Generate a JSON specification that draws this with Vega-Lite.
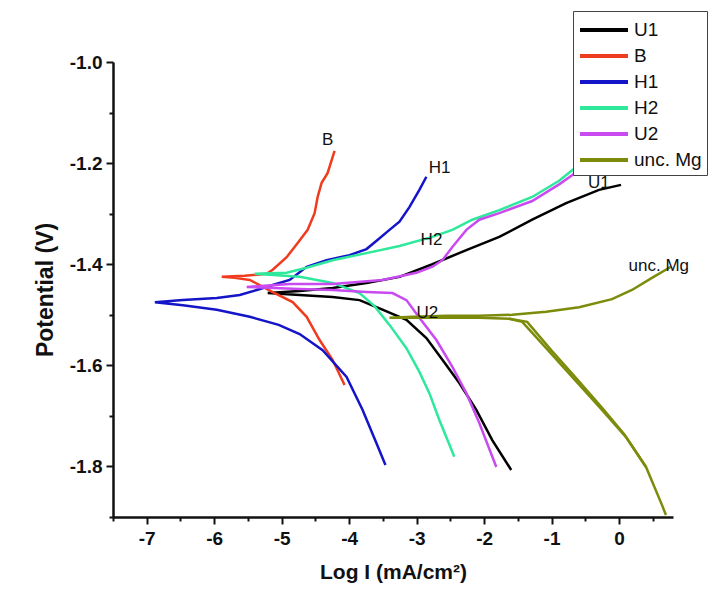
{
  "$schema": "https://vega.github.io/schema/vega-lite/v6.json",
  "width": 560,
  "height": 455,
  "autosize": {"type": "none"},
  "padding": {"left": 113, "top": 62, "right": 44, "bottom": 86},
  "background": "white",
  "config": {
    "view": {"stroke": null},
    "font": "Liberation Sans",
    "locale": {"number": {"decimal": ".", "thousands": ",", "grouping": [3], "currency": ["$", ""], "minus": "-"}}
  },
  "datasets": {
    "curves": [
      {"s":"U1","b":"m","i":0,"x":-1.598,"y":-1.807},
      {"s":"U1","b":"m","i":1,"x":-1.879,"y":-1.748},
      {"s":"U1","b":"m","i":2,"x":-2.115,"y":-1.688},
      {"s":"U1","b":"m","i":3,"x":-2.367,"y":-1.635},
      {"s":"U1","b":"m","i":4,"x":-2.618,"y":-1.589},
      {"s":"U1","b":"m","i":5,"x":-2.855,"y":-1.546},
      {"s":"U1","b":"m","i":6,"x":-3.151,"y":-1.510},
      {"s":"U1","b":"m","i":7,"x":-3.506,"y":-1.490},
      {"s":"U1","b":"m","i":8,"x":-3.846,"y":-1.471},
      {"s":"U1","b":"m","i":9,"x":-4.246,"y":-1.465},
      {"s":"U1","b":"m","i":10,"x":-4.734,"y":-1.461},
      {"s":"U1","b":"m","i":11,"x":-5.207,"y":-1.457},
      {"s":"U1","b":"m","i":12,"x":-4.734,"y":-1.453},
      {"s":"U1","b":"m","i":13,"x":-4.246,"y":-1.447},
      {"s":"U1","b":"m","i":14,"x":-3.743,"y":-1.437},
      {"s":"U1","b":"m","i":15,"x":-3.254,"y":-1.425},
      {"s":"U1","b":"m","i":16,"x":-2.766,"y":-1.400},
      {"s":"U1","b":"m","i":17,"x":-2.263,"y":-1.372},
      {"s":"U1","b":"m","i":18,"x":-1.775,"y":-1.346},
      {"s":"U1","b":"m","i":19,"x":-1.287,"y":-1.312},
      {"s":"U1","b":"m","i":20,"x":-0.784,"y":-1.279},
      {"s":"U1","b":"m","i":21,"x":-0.296,"y":-1.253},
      {"s":"U1","b":"m","i":22,"x":0.030,"y":-1.243},

      {"s":"B","b":"m","i":0,"x":-4.068,"y":-1.639},
      {"s":"B","b":"m","i":1,"x":-4.246,"y":-1.589},
      {"s":"B","b":"m","i":2,"x":-4.438,"y":-1.550},
      {"s":"B","b":"m","i":3,"x":-4.630,"y":-1.504},
      {"s":"B","b":"m","i":4,"x":-4.837,"y":-1.475},
      {"s":"B","b":"m","i":5,"x":-5.133,"y":-1.455},
      {"s":"B","b":"m","i":6,"x":-5.473,"y":-1.431},
      {"s":"B","b":"m","i":7,"x":-5.695,"y":-1.427},
      {"s":"B","b":"m","i":8,"x":-5.888,"y":-1.425},
      {"s":"B","b":"m","i":9,"x":-5.547,"y":-1.423},
      {"s":"B","b":"m","i":10,"x":-5.222,"y":-1.419},
      {"s":"B","b":"m","i":11,"x":-5.133,"y":-1.411},
      {"s":"B","b":"m","i":12,"x":-4.926,"y":-1.386},
      {"s":"B","b":"m","i":13,"x":-4.763,"y":-1.358},
      {"s":"B","b":"m","i":14,"x":-4.615,"y":-1.332},
      {"s":"B","b":"m","i":15,"x":-4.512,"y":-1.299},
      {"s":"B","b":"m","i":16,"x":-4.467,"y":-1.267},
      {"s":"B","b":"m","i":17,"x":-4.408,"y":-1.239},
      {"s":"B","b":"m","i":18,"x":-4.320,"y":-1.220},
      {"s":"B","b":"m","i":19,"x":-4.216,"y":-1.176},

      {"s":"H1","b":"m","i":0,"x":-3.462,"y":-1.797},
      {"s":"H1","b":"m","i":1,"x":-3.595,"y":-1.754},
      {"s":"H1","b":"m","i":2,"x":-3.802,"y":-1.688},
      {"s":"H1","b":"m","i":3,"x":-4.038,"y":-1.623},
      {"s":"H1","b":"m","i":4,"x":-4.393,"y":-1.570},
      {"s":"H1","b":"m","i":5,"x":-4.734,"y":-1.538},
      {"s":"H1","b":"m","i":6,"x":-5.044,"y":-1.520},
      {"s":"H1","b":"m","i":7,"x":-5.473,"y":-1.504},
      {"s":"H1","b":"m","i":8,"x":-5.962,"y":-1.490},
      {"s":"H1","b":"m","i":9,"x":-6.464,"y":-1.481},
      {"s":"H1","b":"m","i":10,"x":-6.879,"y":-1.475},
      {"s":"H1","b":"m","i":11,"x":-6.464,"y":-1.471},
      {"s":"H1","b":"m","i":12,"x":-5.962,"y":-1.467},
      {"s":"H1","b":"m","i":13,"x":-5.621,"y":-1.461},
      {"s":"H1","b":"m","i":14,"x":-5.370,"y":-1.451},
      {"s":"H1","b":"m","i":15,"x":-5.133,"y":-1.441},
      {"s":"H1","b":"m","i":16,"x":-4.882,"y":-1.431},
      {"s":"H1","b":"m","i":17,"x":-4.630,"y":-1.405},
      {"s":"H1","b":"m","i":18,"x":-4.334,"y":-1.392},
      {"s":"H1","b":"m","i":19,"x":-3.994,"y":-1.382},
      {"s":"H1","b":"m","i":20,"x":-3.743,"y":-1.370},
      {"s":"H1","b":"m","i":21,"x":-3.580,"y":-1.352},
      {"s":"H1","b":"m","i":22,"x":-3.402,"y":-1.332},
      {"s":"H1","b":"m","i":23,"x":-3.254,"y":-1.316},
      {"s":"H1","b":"m","i":24,"x":-3.107,"y":-1.287},
      {"s":"H1","b":"m","i":25,"x":-2.959,"y":-1.253},
      {"s":"H1","b":"m","i":26,"x":-2.855,"y":-1.227},

      {"s":"H2","b":"m","i":0,"x":-2.441,"y":-1.781},
      {"s":"H2","b":"m","i":1,"x":-2.663,"y":-1.708},
      {"s":"H2","b":"m","i":2,"x":-2.811,"y":-1.655},
      {"s":"H2","b":"m","i":3,"x":-2.959,"y":-1.613},
      {"s":"H2","b":"m","i":4,"x":-3.151,"y":-1.566},
      {"s":"H2","b":"m","i":5,"x":-3.402,"y":-1.520},
      {"s":"H2","b":"m","i":6,"x":-3.624,"y":-1.483},
      {"s":"H2","b":"m","i":7,"x":-3.846,"y":-1.457},
      {"s":"H2","b":"m","i":8,"x":-4.246,"y":-1.437},
      {"s":"H2","b":"m","i":9,"x":-4.734,"y":-1.425},
      {"s":"H2","b":"m","i":10,"x":-5.399,"y":-1.419},
      {"s":"H2","b":"m","i":11,"x":-4.926,"y":-1.417},
      {"s":"H2","b":"m","i":12,"x":-4.630,"y":-1.407},
      {"s":"H2","b":"m","i":13,"x":-4.246,"y":-1.392},
      {"s":"H2","b":"m","i":14,"x":-3.743,"y":-1.378},
      {"s":"H2","b":"m","i":15,"x":-3.254,"y":-1.364},
      {"s":"H2","b":"m","i":16,"x":-2.766,"y":-1.346},
      {"s":"H2","b":"m","i":17,"x":-2.470,"y":-1.332},
      {"s":"H2","b":"m","i":18,"x":-2.175,"y":-1.312},
      {"s":"H2","b":"m","i":19,"x":-1.775,"y":-1.293},
      {"s":"H2","b":"m","i":20,"x":-1.287,"y":-1.267},
      {"s":"H2","b":"m","i":21,"x":-0.888,"y":-1.235},
      {"s":"H2","b":"m","i":22,"x":-0.695,"y":-1.214},
      {"s":"H2","b":"m","i":23,"x":-0.296,"y":-1.174},

      {"s":"U2","b":"m","i":0,"x":-1.819,"y":-1.801},
      {"s":"U2","b":"m","i":1,"x":-2.071,"y":-1.714},
      {"s":"U2","b":"m","i":2,"x":-2.263,"y":-1.655},
      {"s":"U2","b":"m","i":3,"x":-2.470,"y":-1.603},
      {"s":"U2","b":"m","i":4,"x":-2.707,"y":-1.550},
      {"s":"U2","b":"m","i":5,"x":-2.959,"y":-1.506},
      {"s":"U2","b":"m","i":6,"x":-3.151,"y":-1.471},
      {"s":"U2","b":"m","i":7,"x":-3.358,"y":-1.457},
      {"s":"U2","b":"m","i":8,"x":-3.743,"y":-1.455},
      {"s":"U2","b":"m","i":9,"x":-4.246,"y":-1.451},
      {"s":"U2","b":"m","i":10,"x":-4.734,"y":-1.449},
      {"s":"U2","b":"m","i":11,"x":-5.518,"y":-1.445},
      {"s":"U2","b":"m","i":12,"x":-4.882,"y":-1.439},
      {"s":"U2","b":"m","i":13,"x":-4.246,"y":-1.439},
      {"s":"U2","b":"m","i":14,"x":-3.506,"y":-1.431},
      {"s":"U2","b":"m","i":15,"x":-3.003,"y":-1.417},
      {"s":"U2","b":"m","i":16,"x":-2.766,"y":-1.405},
      {"s":"U2","b":"m","i":17,"x":-2.618,"y":-1.392},
      {"s":"U2","b":"m","i":18,"x":-2.470,"y":-1.366},
      {"s":"U2","b":"m","i":19,"x":-2.263,"y":-1.332},
      {"s":"U2","b":"m","i":20,"x":-2.071,"y":-1.312},
      {"s":"U2","b":"m","i":21,"x":-1.775,"y":-1.299},
      {"s":"U2","b":"m","i":22,"x":-1.287,"y":-1.275},
      {"s":"U2","b":"m","i":23,"x":-0.888,"y":-1.242},
      {"s":"U2","b":"m","i":24,"x":-0.695,"y":-1.224},
      {"s":"U2","b":"m","i":25,"x":-0.296,"y":-1.180},

      {"s":"unc. Mg","b":"m","i":0,"x":0.695,"y":-1.896},
      {"s":"unc. Mg","b":"m","i":1,"x":0.636,"y":-1.876},
      {"s":"unc. Mg","b":"m","i":2,"x":0.400,"y":-1.801},
      {"s":"unc. Mg","b":"m","i":3,"x":0.104,"y":-1.742},
      {"s":"unc. Mg","b":"m","i":4,"x":-0.296,"y":-1.682},
      {"s":"unc. Mg","b":"m","i":5,"x":-0.695,"y":-1.623},
      {"s":"unc. Mg","b":"m","i":6,"x":-1.080,"y":-1.566},
      {"s":"unc. Mg","b":"m","i":7,"x":-1.435,"y":-1.514},
      {"s":"unc. Mg","b":"m","i":8,"x":-1.627,"y":-1.508},
      {"s":"unc. Mg","b":"m","i":9,"x":-2.071,"y":-1.506},
      {"s":"unc. Mg","b":"m","i":10,"x":-2.559,"y":-1.506},
      {"s":"unc. Mg","b":"m","i":11,"x":-3.062,"y":-1.506},
      {"s":"unc. Mg","b":"m","i":12,"x":-3.402,"y":-1.506},
      {"s":"unc. Mg","b":"m","i":13,"x":-3.062,"y":-1.504},
      {"s":"unc. Mg","b":"m","i":14,"x":-2.559,"y":-1.502},
      {"s":"unc. Mg","b":"m","i":15,"x":-2.071,"y":-1.502},
      {"s":"unc. Mg","b":"m","i":16,"x":-1.583,"y":-1.500},
      {"s":"unc. Mg","b":"m","i":17,"x":-1.080,"y":-1.494},
      {"s":"unc. Mg","b":"m","i":18,"x":-0.592,"y":-1.485},
      {"s":"unc. Mg","b":"m","i":19,"x":-0.104,"y":-1.469},
      {"s":"unc. Mg","b":"m","i":20,"x":0.192,"y":-1.451},
      {"s":"unc. Mg","b":"m","i":21,"x":0.488,"y":-1.427},
      {"s":"unc. Mg","b":"m","i":22,"x":0.769,"y":-1.405},
      {"s":"unc. Mg","b":"d","i":0,"x":-1.627,"y":-1.508},
      {"s":"unc. Mg","b":"d","i":1,"x":-1.361,"y":-1.514},
      {"s":"unc. Mg","b":"d","i":2,"x":-1.006,"y":-1.570},
      {"s":"unc. Mg","b":"d","i":3,"x":-0.636,"y":-1.625},
      {"s":"unc. Mg","b":"d","i":4,"x":-0.251,"y":-1.684},
      {"s":"unc. Mg","b":"d","i":5,"x":0.074,"y":-1.736},
      {"s":"unc. Mg","b":"d","i":6,"x":0.400,"y":-1.801}
    ],
    "labels": [
      {"label":"B","x":-4.32,"y":-1.154},
      {"label":"H1","x":-2.66,"y":-1.21},
      {"label":"H2","x":-2.78,"y":-1.352},
      {"label":"U1","x":-0.30,"y":-1.239},
      {"label":"unc. Mg","x":0.59,"y":-1.403},
      {"label":"U2","x":-2.84,"y":-1.496}
    ]
  },
  "encoding": {
    "x": {
      "field": "x", "type": "quantitative",
      "scale": {"domain": [-7.5, 0.8], "nice": false, "zero": false},
      "axis": {
        "title": "Log I (mA/cm²)",
        "titleFontSize": 21, "titleFontWeight": "bold", "titleColor": "#111", "titlePadding": 13,
        "values": [-7.5,-7,-6.5,-6,-5.5,-5,-4.5,-4,-3.5,-3,-2.5,-2,-1.5,-1,-0.5,0,0.5],
        "labelExpr": "datum.value % 1 == 0 ? format(datum.value, '.0f') : ''",
        "labelFontSize": 19, "labelFontWeight": "bold", "labelColor": "#111", "labelPadding": 5,
        "tickSize": {"condition": {"test": "datum.value % 1 != 0", "value": 4}, "value": 7},
        "tickColor": "#111", "tickWidth": 2,
        "domainColor": "#111", "domainWidth": 2.5,
        "grid": false, "labelFlush": false, "labelOverlap": false
      }
    },
    "y": {
      "field": "y", "type": "quantitative",
      "scale": {"domain": [-1.9, -1.0], "nice": false, "zero": false},
      "axis": {
        "title": "Potential (V)",
        "titleFontSize": 23, "titleFontWeight": "bold", "titleColor": "#111", "titlePadding": 12,
        "values": [-1.9,-1.8,-1.7,-1.6,-1.5,-1.4,-1.3,-1.2,-1.1,-1.0],
        "format": ".1f",
        "labelExpr": "round(datum.value*10) % 2 == 0 ? datum.label : ''",
        "labelFontSize": 19, "labelFontWeight": "bold", "labelColor": "#111", "labelPadding": 4,
        "tickSize": {"condition": {"test": "round(datum.value*10) % 2 != 0", "value": 4}, "value": 7},
        "tickColor": "#111", "tickWidth": 2,
        "domainColor": "#111", "domainWidth": 2.5,
        "grid": false, "labelFlush": false, "labelOverlap": false
      }
    }
  },
  "layer": [
    {
      "data": {"name": "curves"},
      "mark": {"type": "line", "strokeWidth": 2.5},
      "encoding": {
        "color": {
          "field": "s", "type": "nominal",
          "scale": {
            "domain": ["U1", "B", "H1", "H2", "U2", "unc. Mg"],
            "range": ["#000000", "#f03c1e", "#1414c8", "#2ee89c", "#c84af0", "#7c8c0a"]
          },
          "legend": {
            "title": null,
            "orient": "none", "legendX": 460, "legendY": -51,
            "symbolType": "M-1,0H3", "symbolSize": 576, "symbolStrokeWidth": 4,
            "labelFontSize": 19, "labelColor": "#111", "labelFont": "Liberation Sans", "labelOffset": 28,
            "rowPadding": 2, "padding": 5,
            "fillColor": "white", "strokeColor": "#444"
          }
        },
        "detail": {"field": "b"},
        "order": {"field": "i", "type": "quantitative"}
      }
    },
    {
      "data": {"name": "labels"},
      "mark": {"type": "text", "fontSize": 17, "color": "#111", "font": "Liberation Sans"},
      "encoding": {"text": {"field": "label"}}
    }
  ]
}
